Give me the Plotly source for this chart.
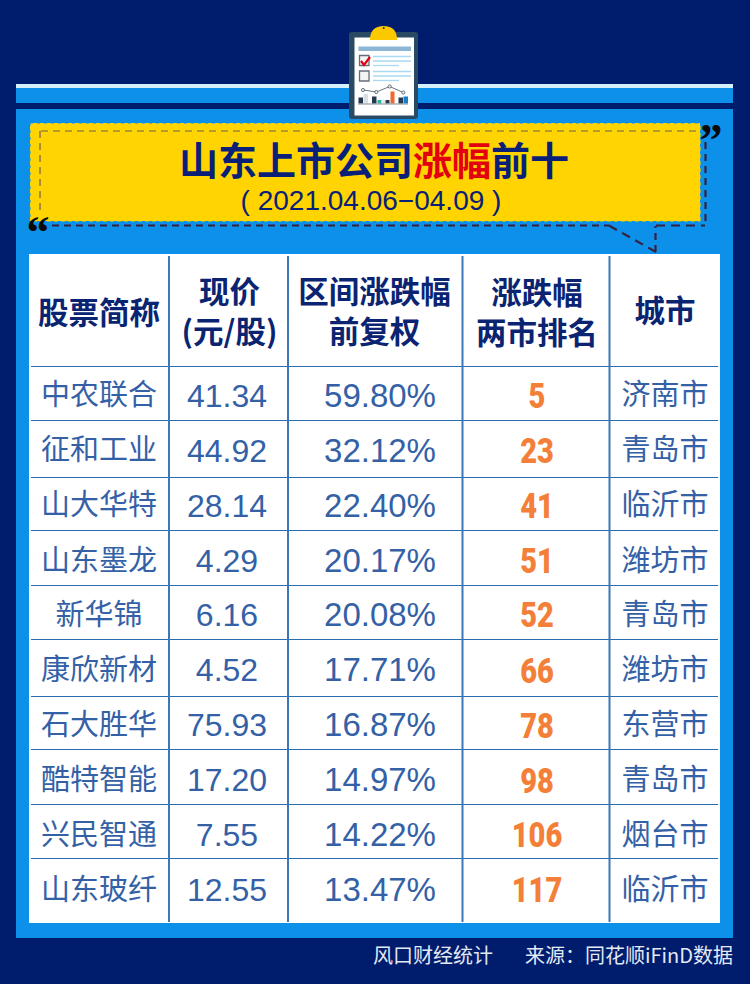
import plotly.graph_objects as go

# ---- data ----
names = ["中农联合", "征和工业", "山大华特", "山东墨龙", "新华锦", "康欣新材", "石大胜华", "酷特智能", "兴民智通", "山东玻纤"]
prices = [41.34, 44.92, 28.14, 4.29, 6.16, 4.52, 75.93, 17.20, 7.55, 12.55]
changes = [59.80, 32.12, 22.40, 20.17, 20.08, 17.71, 16.87, 14.97, 14.22, 13.47]
ranks = [5, 23, 41, 51, 52, 66, 78, 98, 106, 117]
cities = ["济南市", "青岛市", "临沂市", "潍坊市", "青岛市", "潍坊市", "东营市", "青岛市", "烟台市", "临沂市"]
header_top = ["现价", "区间涨跌幅", "涨跌幅"]
header_bottom = ["(元/股)", "前复权", "两市排名"]
header_single = ["股票简称", "城市"]
title_html = '山东上市公司<span style="color:#e3000f">涨幅</span>前十'
subtitle = "( 2021.04.06−04.09 )"
credit_left = "风口财经统计"
credit_right = "来源：同花顺iFinD数据"

# ---- layout geometry (pixels) ----
W, H = 750, 984
NAVY, BLUE, YELLOW = "#001c6d", "#0c90e9", "#ffd400"
HEAD, BODY, ORANGE = "#0b2472", "#3461a6", "#f47f38"
CJK = "Noto Sans CJK SC"
LAT = "Liberation Sans"
col_x = [99, 227, 380, 537, 665]
head_x = [229.5, 374.5, 537]
v_lines = [169, 288, 462.5, 609.5]
h_lines = [366.5, 420.5, 477.5, 530.5, 585.5, 639.5, 696.5, 749.5, 804.5, 858.5]
name_y = [397.5, 452.5, 507.5, 563.5, 617.5, 672.5, 727.5, 782.5, 837.5, 892.5]
num_y = [399, 454, 509, 564, 618, 673, 728, 783, 838, 893]
rank_y = [399, 454, 509, 564, 618, 674, 729, 784, 838, 893]

shapes = []


def rect(x0, y0, x1, y1, fill, line=None, lw=0):
    shapes.append(dict(type="rect", xref="x", yref="y", x0=x0, y0=y0, x1=x1, y1=y1, fillcolor=fill,
                       line=dict(color=line or fill, width=lw), layer="below"))


def seg(x0, y0, x1, y1, color, lw=1, dash=None):
    shapes.append(dict(type="line", xref="x", yref="y", x0=x0, y0=y0, x1=x1, y1=y1,
                       line=dict(color=color, width=lw, dash=dash or "solid"), layer="below"))


def path(d, fill=None, line=None, lw=0):
    shapes.append(dict(type="path", xref="x", yref="y", path=d, fillcolor=fill or "rgba(0,0,0,0)",
                       line=dict(color=line or "rgba(0,0,0,0)", width=lw), layer="below"))


# panels
rect(16, 84, 733, 103, BLUE)
rect(16, 84, 733, 88, "#d6effd")
rect(16, 109, 733, 938, BLUE)

# banner
rect(30, 123, 700.5, 221.5, YELLOW)
for a in [(30, 123, 700.5, 123), (30, 221.5, 700.5, 221.5), (30, 123, 30, 221.5), (700.5, 123, 700.5, 221.5)]:
    seg(*a, BLUE, 1, "3px,4px")
seg(41, 131, 699, 131, "#6b6350", 1.2, "7px,5px")
seg(40, 131, 40, 213, "#6b6350", 1.2, "7px,5px")
DK = "#37213f"
seg(705.5, 142, 705.5, 225.5, DK, 2.2, "7px,5px")
seg(52, 225.5, 609, 225.5, DK, 2.2, "7px,5px")
seg(609, 225.5, 656, 252, DK, 2.2, "9px,6px")
seg(655.5, 252, 655.5, 226, DK, 2.2, "7px,5px")
seg(656, 225.5, 705, 225.5, DK, 2.2, "9px,6px")

# table
rect(29, 254, 720, 923, "white")
for y in h_lines:
    seg(31, y, 718, y, "#2a6cb3", 1.2)
for x in v_lines:
    seg(x, 256, x, 922, "#3c77b7", 2)

# clipboard icon
path("M 352 32 H 415 Q 418 32 418 35 V 116 Q 418 119 415 119 H 352 Q 349 119 349 116 V 35 Q 349 32 352 32 Z", fill="#2a4a63")
rect(354.5, 37.5, 414, 115.5, "white")
path("M 370 40 Q 370 26 383.7 26 Q 397 26 397 40 Z", fill="#fbc900")
shapes.append(dict(type="circle", xref="x", yref="y", x0=382.7, y0=27, x1=384.7, y1=29, fillcolor="#33332b",
                   line=dict(width=0), layer="below"))
rect(358.5, 46.5, 411, 51, "#8cb6d3")
for y0 in (55.5, 71):
    rect(359.5, y0, 369, y0 + 10, "#f4f4f4", "#666e78", 1.3)
path("M 361 61 L 364 65 L 370 57", line="#e3000f", lw=2.2)
for y, xe in [(56.5, 411), (61, 411), (65.5, 399), (71.5, 411), (76, 411), (80.5, 399)]:
    seg(373, y, xe, y, "#a9daf2", 1.3)
path("M 363 90 L 376.3 92 L 389.7 86.5 L 403.3 92.5", line="#5b6670", lw=0.9)
for cx, cy in [(363, 90), (376.3, 92), (389.7, 86.5), (403.3, 92.5)]:
    shapes.append(dict(type="circle", xref="x", yref="y", x0=cx - 1.6, y0=cy - 1.6, x1=cx + 1.6, y1=cy + 1.6,
                       fillcolor="#e8eef2", line=dict(color="#4d5a66", width=0.8), layer="below"))
for x0, x1, top, c in [(358.5, 363, 97.5, "#25384d"), (363.5, 368, 94, "#dcdfe2"), (372, 376.5, 96.5, "#25384d"),
                       (377.5, 381.5, 100, "#21b79a"), (381.5, 385, 100, "#e4e6e8"), (385.5, 389.5, 100, "#25384d"),
                       (390.5, 394.5, 91.5, "#f3662d"), (398.5, 403, 97.5, "#25384d"), (403.5, 408, 96.5, "#1580c8")]:
    rect(x0, top, x1, 103.5, c)
seg(358, 104, 408, 104, "#7d8a95", 1.2)


def label(x, y, text, size, color, family=CJK, weight=None, pos="middle center", shadow=None, name=None):
    font = dict(size=size, color=color, family=family)
    if weight:
        font["weight"] = weight
    if shadow:
        font["shadow"] = shadow
    return go.Scatter(x=x, y=y, text=text, mode="text", textposition=pos, textfont=font, name=name,
                      hoverinfo="skip", showlegend=False, cliponaxis=False)


n = len(names)
traces = [
    # title
    label([374], [165], [title_html], 39, "#0a1f78", weight=700),
    label([371], [203], [subtitle], 28, "#0a1f78", family=LAT),
    label([711], [144], ["”"], 46, "#0a0a0a", family="Liberation Serif", weight=700),
    label([38], [236.5], ["“"], 46, "#0a0a0a", family="Liberation Serif", weight=700),
    # header
    label(head_x, [295.5, 295.5, 296.5], header_top, 30.5, HEAD, weight=700),
    label(head_x, [335.5, 335.5, 336.5], header_bottom, 30.5, HEAD, weight=700),
    label([col_x[0], col_x[4]], [316.5, 314.5], header_single, 30.5, HEAD, weight=700),
    # body
    label([col_x[0]] * n, name_y, names, 29, BODY, weight=400),
    label([col_x[1]] * n, num_y, [f"{v:.2f}" for v in prices], 32, BODY, family=LAT),
    label([col_x[2]] * n, num_y, [f"{v:.2f}%" for v in changes], 33, BODY, family=LAT),
    label([col_x[3]] * n, rank_y, [str(v) for v in ranks], 35, ORANGE, family="Roboto", weight=900),
    label([col_x[4]] * n, name_y, cities, 29, BODY, weight=400),
    # credits
    label([493], [958], [credit_left], 20, "#e3e9f5", pos="middle left"),
    label([733], [958], [credit_right], 20, "#e3e9f5", pos="middle left"),
]

fig = go.Figure(traces)
fig.update_layout(
    width=W, height=H, margin=dict(l=0, r=0, t=0, b=0), autosize=False,
    paper_bgcolor=NAVY, plot_bgcolor=NAVY, showlegend=False, shapes=shapes,
    xaxis=dict(range=[0, W], visible=False, fixedrange=True),
    yaxis=dict(range=[H, 0], visible=False, fixedrange=True),
)
# rank numerals are drawn condensed (the original uses an Impact-style face)
post = """
document.body.style.margin='0';document.body.style.background='%s';
var tr=document.querySelectorAll('.scatterlayer .trace')[10];
if(tr){tr.querySelectorAll('text').forEach(function(t){
 var x=parseFloat(t.getAttribute('x'));
 t.setAttribute('transform','translate('+x+',0) scale(0.83,1) translate('+(-x)+',0)');
});}
""" % NAVY
fig.write_html("out.html", config=dict(displayModeBar=False, staticPlot=True), post_script=post)
